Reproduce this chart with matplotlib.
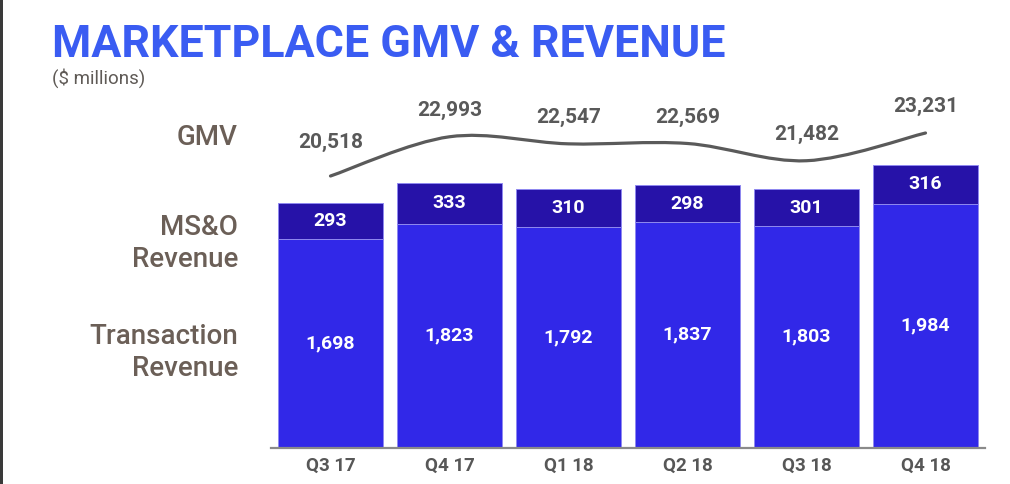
import numpy as np
import matplotlib
matplotlib.use("Agg")
import matplotlib.pyplot as plt
from matplotlib.path import Path
from matplotlib.patches import PathPatch, Rectangle

quarters = ["Q3 17", "Q4 17", "Q1 18", "Q2 18", "Q3 18", "Q4 18"]
transaction_rev = [1698, 1823, 1792, 1837, 1803, 1984]
mso_rev = [293, 333, 310, 298, 301, 316]
gmv = [20518, 22993, 22547, 22569, 21482, 23231]
row_labels = ["GMV", "MS&O\nRevenue", "Transaction\nRevenue"]

W, H = 1010, 484
FONT = "Roboto"
BLUE_TITLE = "#3a5cf2"
BAR_LOW = "#3128e8"
BAR_TOP = "#2612a8"
LABEL_GREY = "#6b5f57"
NUM_GREY = "#595959"


def px(x, y):
    # pixel coords (from top-left) -> figure fraction
    return x / W, 1 - y / H


def smooth_path(xs, ys):
    # catmull-rom segments drawn as cubic beziers
    pts = np.column_stack([xs, ys]).astype(float)
    ext = np.vstack([pts[0], pts, pts[-1]])
    verts = [pts[0]]
    codes = [Path.MOVETO]
    for i in range(len(pts) - 1):
        p0, p1, p2, p3 = ext[i], ext[i + 1], ext[i + 2], ext[i + 3]
        verts += [p1 + (p2 - p0) / 6, p2 - (p3 - p1) / 6, p2]
        codes += [Path.CURVE4] * 3
    return Path(verts, codes)


fig = plt.figure(figsize=(W / 100, H / 100), dpi=100)
fig.patch.set_facecolor("white")

left, bottom = px(271, 447.5)
right, top = px(985, 100)
ax = fig.add_axes([left, bottom, right - left, top - bottom])
ax2 = ax.twinx()
ax2.set_position(ax.get_position())

x = np.arange(len(quarters))
bw = 0.882
ax.bar(x, transaction_rev, width=bw, color=BAR_LOW, edgecolor="#8f89f0", linewidth=0.7, zorder=2)
ax.bar(x, mso_rev, bottom=transaction_rev, width=bw, color=BAR_TOP, edgecolor="#8f89f0",
       linewidth=0.7, zorder=2)

for xi, t, m in zip(x, transaction_rev, mso_rev):
    ax.text(xi, t / 2, f"{t:,}", ha="center", va="center", color="white",
            fontsize=14, fontweight="bold", family=FONT, zorder=3)
    ax.text(xi, t + m / 2, f"{m:,}", ha="center", va="center", color="white",
            fontsize=14, fontweight="bold", family=FONT, zorder=3)

ax.set_xlim(-0.5, 5.5)
ax.set_ylim(0, 2830)
ax.set_xticks(x)
ax.set_xticklabels(quarters, family=FONT, fontsize=13.5, fontweight="bold", color="#575757")
ax.tick_params(axis="x", length=0, pad=7)
ax.set_yticks([])
for s in ["top", "right", "left"]:
    ax.spines[s].set_visible(False)
ax.spines["bottom"].set_color("#8a8a8a")
ax.spines["bottom"].set_linewidth(1.6)

# GMV line on its own scale
ax2.set_ylim(3389, 25313)
ax2.set_xlim(-0.5, 5.5)
ax2.axis("off")
ax2.add_patch(PathPatch(smooth_path(x, gmv), facecolor="none", edgecolor="#5a5a5a",
                        linewidth=2.3, capstyle="round", zorder=4))
for i, (xi, g) in enumerate(zip(x, gmv)):
    off = 24 if i == 0 else 19
    ax2.annotate(f"{g:,}", (xi, g), xytext=(0, off), textcoords="offset points",
                 ha="center", va="center", fontsize=15, fontweight="semibold",
                 family=FONT, color=NUM_GREY)

# row labels on the left
row_baselines = [145, 235, 344]
for lab, yb in zip(row_labels, row_baselines):
    for j, line in enumerate(lab.split("\n")):
        fig.text(*px(238, yb + j * 32), line, ha="right", va="baseline",
                 fontsize=20, family=FONT, fontweight="medium", color=LABEL_GREY)

fig.text(*px(52, 57), "MARKETPLACE GMV & REVENUE", ha="left", va="baseline",
         fontsize=32.2, fontweight="bold", family=FONT, color=BLUE_TITLE)
fig.text(*px(52, 84), "($ millions)", ha="left", va="baseline",
         fontsize=13.5, family=FONT, color="#5f5a56")

fig.add_artist(Rectangle((0, 0), 3 / W, 1, transform=fig.transFigure,
                         facecolor="#3a3a3a", edgecolor="none"))

fig.savefig("out.png", dpi=100)
